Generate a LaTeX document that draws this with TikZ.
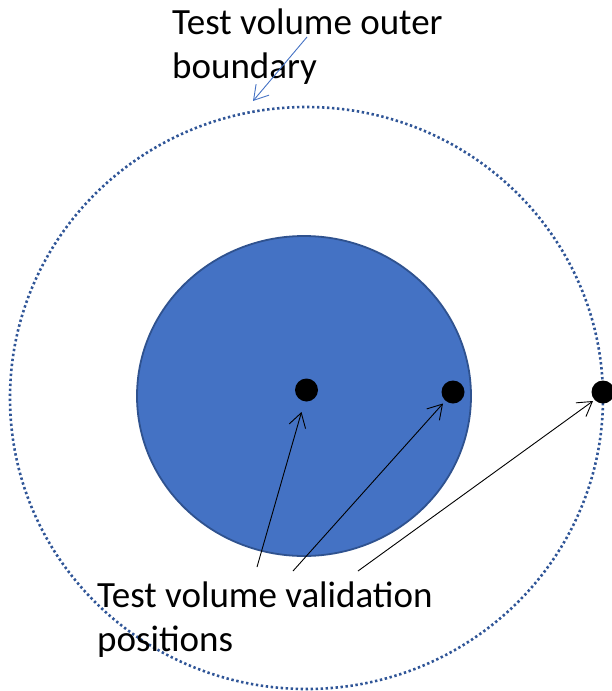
\documentclass[tikz,border=0pt]{standalone}
\usepackage{fontspec}
\setmainfont{Carlito}
\usetikzlibrary{arrows.meta}
\definecolor{fillblue}{HTML}{4472C4}
\definecolor{edgeblue}{HTML}{2F528F}
\definecolor{dotblue}{HTML}{2F5597}
\tikzset{
  lbl/.style={inner sep=0pt, align=left, font=\fontsize{37}{44}\selectfont, anchor=base west},
  ptr/.style={draw=black, line width=0.9pt, -{Straight Barb[length=14pt,width=17pt,line width=0.9pt]}},
  bptr/.style={draw=fillblue, line width=0.9pt, -{Straight Barb[length=14pt,width=17pt,line width=0.9pt]}},
  posdot/.style={fill=black, circle, inner sep=0pt, minimum size=23pt}
}
\begin{document}
\begin{tikzpicture}[x=1pt,y=-1pt]
\useasboundingbox (0,0) rectangle (612,691);
% outer boundary
\draw[dotblue, line width=2.6pt, dash pattern=on 2.4pt off 2.6pt] (306.5,398) ellipse [x radius=296.5, y radius=291];
% test volume
\draw[fill=fillblue, draw=edgeblue, line width=1.8pt] (304,396) ellipse [x radius=167, y radius=160];
% positions
\node[posdot] (p1) at (306.5,390) {};
\node[posdot] (p2) at (453,392) {};
\node[posdot] (p3) at (603,392) {};
% labels
\node[lbl] (top) at (172,78) {Test volume outer\\boundary};
\node[lbl] (bot) at (97,651) {Test volume validation\\positions};
% connectors
\coordinate (t0) at (307,37);
\coordinate (t1) at (253,101);
\draw[bptr] (t0) -- (t1);
\coordinate (a1) at (257,567);
\coordinate (a2) at (293,571);
\coordinate (a3) at (358,571);
\coordinate (h1) at (301.5,412);
\coordinate (h2) at (443,403.5);
\coordinate (h3) at (593,401);
\draw[ptr] (a1) -- (h1);
\draw[ptr] (a2) -- (h2);
\draw[ptr] (a3) -- (h3);
\end{tikzpicture}
\end{document}
